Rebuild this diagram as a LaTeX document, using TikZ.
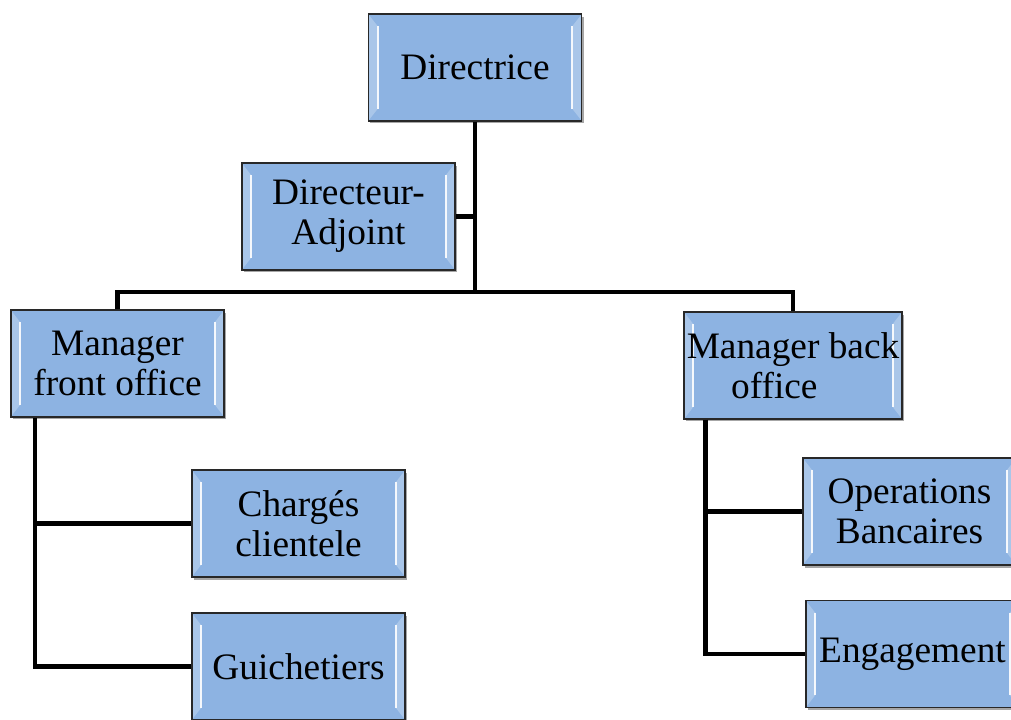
\documentclass[tikz,border=0pt]{standalone}
\usepackage{fontspec}
\setmainfont{Liberation Serif}
\usetikzlibrary{shadows}

\definecolor{boxblue}{RGB}{141,179,226}
\definecolor{boxedge}{RGB}{40,40,40}

\tikzset{every picture/.style={line width=0.75pt}}
\tikzset{
  orgbox/.style={draw=boxedge, line width=1.2pt, fill=boxblue,
    minimum width=160pt, minimum height=80pt, inner sep=2pt, align=center,
    font=\fontsize{28}{30}\selectfont,
    drop shadow={shadow xshift=1.5pt, shadow yshift=-2pt, opacity=0.35, fill=black},
    path picture={
      % left and right bevel
      \fill[white, opacity=0.25] (path picture bounding box.north west) -- ([shift={(7pt,-9pt)}]path picture bounding box.north west) -- ([shift={(7pt,9pt)}]path picture bounding box.south west) -- (path picture bounding box.south west) -- cycle;
      \fill[white, opacity=0.25] (path picture bounding box.north east) -- ([shift={(-7pt,-9pt)}]path picture bounding box.north east) -- ([shift={(-7pt,9pt)}]path picture bounding box.south east) -- (path picture bounding box.south east) -- cycle;
      \draw[white, opacity=0.9, line width=1.5pt] ([shift={(7pt,-9pt)}]path picture bounding box.north west) -- ([shift={(7pt,9pt)}]path picture bounding box.south west);
      \draw[white, opacity=0.9, line width=1.5pt] ([shift={(-7pt,-9pt)}]path picture bounding box.north east) -- ([shift={(-7pt,9pt)}]path picture bounding box.south east);
    }},
  link/.style={line width=3.5pt, line join=miter, draw=black}
}

\begin{document}
\begin{tikzpicture}[x=0.75pt,y=0.75pt,yscale=-1,xscale=1]
\useasboundingbox (0,0) rectangle (1011,720);
\clip (0,0) rectangle (1011,720);

%Shape: Boxes
\node [orgbox] (dir) at (475,67.5) {Directrice};
\node [orgbox] (adj) at (348.5,216.5) {Directeur-\\Adjoint};
\node [orgbox] (mfront) at (117.5,363.5) {Manager\\front office};
\node [orgbox] (mback) at (793,365.5) {Manager back\\office\hspace*{28pt}};
\node [orgbox] (charges) at (298.5,523.5) {Chargés\\clientele};
\node [orgbox] (guich) at (298.5,666.5) {Guichetiers};
\node [orgbox] (oper) at (909.5,511.5) {Operations\\Bancaires};
\node [orgbox] (engag) at (912.5,654) {Engagement};

%Straight Lines
\coordinate (bus) at (475,292);
\coordinate (ftrunk) at ([xshift=18.75pt]mfront.south west);
\coordinate (btrunk) at ([xshift=16.5pt]mback.south west);

\draw [link] (dir.south) -- (bus);
\draw [link] (adj.east) -- (adj.east -| bus);
\draw [link] (mfront.north) |- (bus) -| (mback.north);
\draw [link] (ftrunk) |- (charges.west);
\draw [link] (ftrunk) |- (guich.west);
\draw [link] (btrunk) |- (oper.west);
\draw [link] (btrunk) |- (engag.west);

\end{tikzpicture}
\end{document}
